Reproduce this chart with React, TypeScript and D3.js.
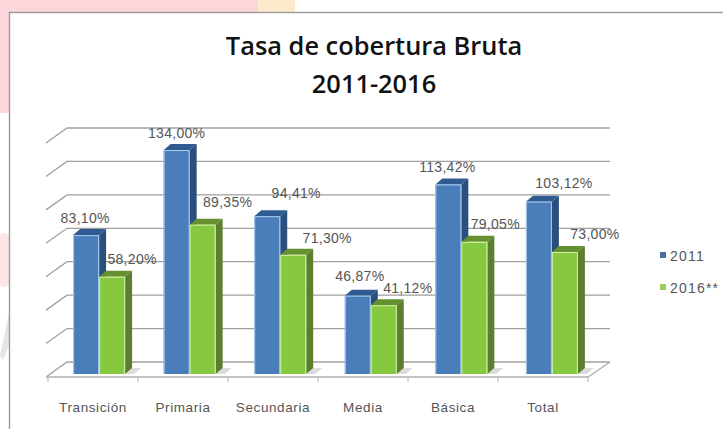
import * as d3 from "d3";

const categories = ["Transición", "Primaria", "Secundaria", "Media", "Básica", "Total"];
const seriesNames = ["2011", "2016**"];
const values2011 = [83.1, 134, 94.41, 46.87, 113.42, 103.12];
const values2016 = [58.2, 89.35, 71.3, 41.12, 79.05, 73];
const gridTicks = [0, 20, 40, 60, 80, 100, 120, 140];
const titleLines = ["Tasa de cobertura Bruta", "2011-2016"];

const width = 723;
const height = 429;
const depthX = 21;
const depthY = 15;
const barDepthX = 7;
const barDepthY = 6;

const fills = [
  { front: "#4a7ebb", side: "#2b4f7d", top: "#2f5b92", edge: "#a9cdf0" },
  { front: "#86c83f", side: "#5b7f2e", top: "#64902f", edge: "#d3f0a5" },
];

const label = (v: number) => v.toFixed(2).replace(".", ",") + "%";

// label offsets from each bar's centre and value height
const labelShift = [
  [[-1, -15], [20, -16]],
  [[0, -15], [25, -21]],
  [[29, -21], [34, -15]],
  [[2, -18], [24, -15]],
  [[-1, -15], [21, -16]],
  [[25, -17], [30, -16]],
];

export default function App() {
  const axisX = d3.scaleBand<string>().domain(categories).range([48, 588]);
  const x = d3.scaleBand<string>().domain(categories).range([55, 596]).paddingInner(0.426).paddingOuter(0.2);
  const x1 = d3.scaleBand<string>().domain(seriesNames).range([0, x.bandwidth()]);
  const y = d3.scaleLinear().domain([0, 140]).range([377, 143]);
  const series = [values2011, values2016];

  return (
    <svg
      width={width}
      height={height}
      style={{ position: "fixed", left: 0, top: 0 }}
      fontFamily="Liberation Sans, sans-serif"
    >
      <rect width={width} height={height} fill="#ffffff" />
      <rect x={0} y={0} width={9} height={113} fill="#fcd6da" />
      <rect x={0} y={233} width={9} height={54} rx={4} fill="#fde4e6" />
      <path d="M9,313L9,345L3,360L0,356Z" fill="#e6e6e6" />
      <rect x={0} y={0} width={258} height={12} fill="#fcd6da" />
      <rect x={258} y={0} width={37} height={12} fill="#fdeacb" />
      <rect x={9.5} y={12.5} width={width} height={height} fill="#ffffff" stroke="#9a9a9a" strokeWidth={1.4} />

      {titleLines.map((t, i) => (
        <text
          key={t}
          x={374}
          y={55 + i * 38}
          textAnchor="middle"
          fontFamily="Open Sans, Liberation Sans, sans-serif"
          fontSize={25.4}
          fontWeight={600}
          fill="#111111"
        >
          {t}
        </text>
      ))}

      {gridTicks.map((t) => (
        <path
          key={t}
          d={d3.line()([[46, y(t)], [46 + depthX, y(t) - depthY], [610, y(t) - depthY]]) ?? ""}
          fill="none"
          stroke="#a0a0a0"
          strokeWidth={1.3}
        />
      ))}
      <path
        d={d3.line()([[46, y(0)], [588, y(0)], [610, y(0) - depthY]]) ?? ""}
        fill="none"
        stroke="#b0b0b0"
        strokeWidth={1.5}
      />
      {categories.map((c) => (
        <line key={c} x1={axisX(c)} x2={axisX(c)} y1={y(0)} y2={y(0) + 5} stroke="#b0b0b0" />
      ))}
      <line x1={588} x2={588} y1={y(0)} y2={y(0) + 5} stroke="#b0b0b0" />

      {categories.map((c, i) =>
        series.map((vals, s) => {
          const x0 = (x(c) ?? 0) + (x1(seriesNames[s]) ?? 0);
          const w = x1.bandwidth();
          const base = y(0) - 3;
          const top = y(vals[i]) - 3;
          const f = fills[s];
          return (
            <g key={c + s}>
              {s === 1 && (
                <path
                  d={`M${x0 + w},${base}l${barDepthX},${-barDepthY}l9,0l-7,${barDepthY}Z`}
                  fill="#dcdcdc"
                />
              )}
              <path
                d={`M${x0 + w},${base}l${barDepthX},${-barDepthY}V${top - barDepthY}l${-barDepthX},${barDepthY}Z`}
                fill={f.side}
              />
              <path
                d={`M${x0},${top}l${barDepthX},${-barDepthY}h${w}l${-barDepthX},${barDepthY}Z`}
                fill={f.top}
              />
              <rect x={x0} y={top} width={w} height={base - top} fill={f.front} />
              <path
                d={`M${x0 + 0.5},${base}V${top + 0.5}H${x0 + w - 0.5}V${base}`}
                fill="none"
                stroke={f.edge}
                strokeWidth={1}
              />
            </g>
          );
        })
      )}

      {categories.map((c, i) =>
        series.map((vals, s) => {
          const x0 = (x(c) ?? 0) + (x1(seriesNames[s]) ?? 0) + x1.bandwidth() / 2;
          const [dx, dy] = labelShift[i][s];
          return (
            <text
              key={c + s}
              x={x0 + dx}
              y={y(vals[i]) + dy}
              textAnchor="middle"
              fontSize={14}
              letterSpacing={0.3}
              fill="#555555"
            >
              {label(vals[i])}
            </text>
          );
        })
      )}

      {categories.map((c) => (
        <text
          key={c}
          x={(axisX(c) ?? 0) + axisX.bandwidth() / 2}
          y={412}
          textAnchor="middle"
          fontSize={13.5}
          letterSpacing={0.6}
          fill="#555555"
        >
          {c}
        </text>
      ))}

      {seriesNames.map((n, i) => (
        <g key={n}>
          <rect x={660} y={252 + i * 32} width={6} height={6} fill={i === 0 ? "#4a6f9f" : "#9ccb5c"} />
          <text x={670} y={261 + i * 32} fontSize={14} letterSpacing={1.2} fill="#555555">
            {n}
          </text>
        </g>
      ))}
    </svg>
  );
}
